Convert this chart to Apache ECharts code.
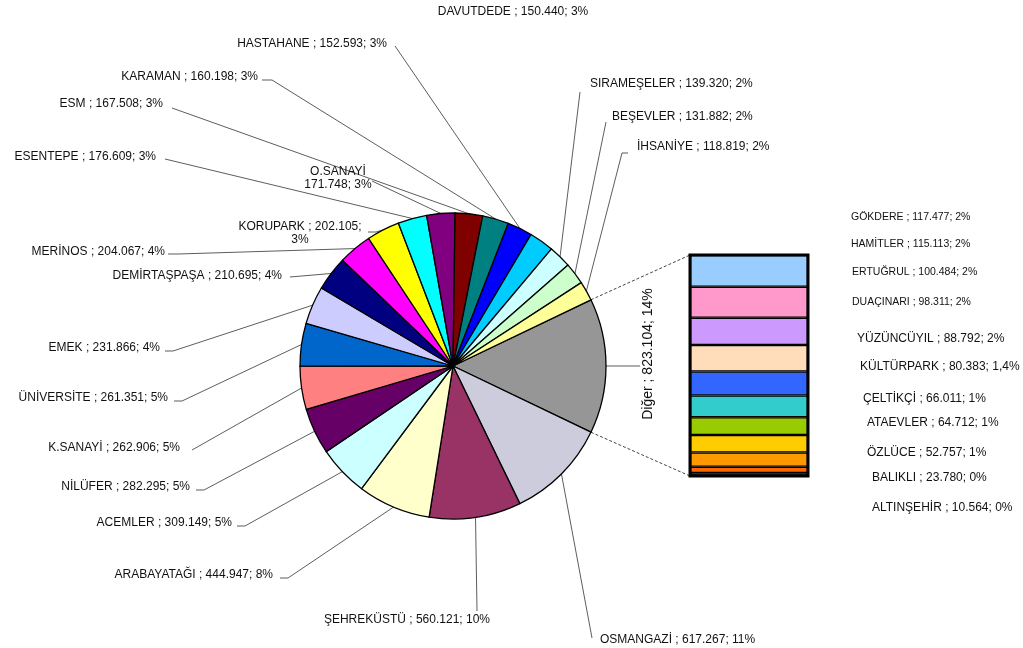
<!DOCTYPE html>
<html><head><meta charset="utf-8">
<script src="https://cdn.jsdelivr.net/npm/echarts@6/dist/echarts.min.js"></script>
<style>html,body{margin:0;padding:0;background:#fff}#c{width:1023px;height:648px}</style>
</head><body><div id="c"></div>
<script>
// ---- data ----
const pieNames = ['Diğer','OSMANGAZİ','ŞEHREKÜSTÜ','ARABAYATAĞI','ACEMLER','NİLÜFER','K.SANAYİ','ÜNİVERSİTE','EMEK','DEMİRTAŞPAŞA','MERİNOS','KORUPARK','ESENTEPE','O.SANAYİ','ESM','KARAMAN','HASTAHANE','DAVUTDEDE','SIRAMEŞELER','BEŞEVLER','İHSANİYE'];
const pieValues = [823104,617267,560121,444947,309149,282295,262906,261351,231866,210695,204067,202105,176609,171748,167508,160198,152593,150440,139320,131882,118819];
const piePercents = ['14%','11%','10%','8%','5%','5%','5%','5%','4%','4%','4%','3%','3%','3%','3%','3%','3%','3%','2%','2%','2%'];
const barNames = ['GÖKDERE','HAMİTLER','ERTUĞRUL','DUAÇINARI','YÜZÜNCÜYIL','KÜLTÜRPARK','ÇELTİKÇİ','ATAEVLER','ÖZLÜCE','BALIKLI','ALTINŞEHİR'];
const barValues = [117477,115113,100484,98311,88792,80383,66011,64712,52757,23780,10564];
const barPercents = ['2%','2%','2%','2%','2%','1,4%','1%','1%','1%','0%','0%'];

// ---- styles / layout ----
const pieColors = ['#969696','#CCCCDD','#993366','#FFFFCC','#CCFFFF','#660066','#FF8080','#0066CC','#CCCCFF','#000080','#FF00FF','#FFFF00','#00FFFF','#800080','#800000','#008080','#0000FF','#00CCFF','#CCFFFF','#CCFFCC','#FFFF99'];
const barColors = ['#99CCFF','#FF99CC','#CC99FF','#FFDDBB','#3366FF','#33CCCC','#99CC00','#FFCC00','#FF9900','#FF6600','#666699'];
const CX = 453, CY = 366, R = 153;
const GRID = {left: 690, top: 255, width: 118, height: 221};
// label anchor x, y, align, leader end x, y, line-break mode, elbow
const pieLabelPos = [
  [648,354,'center',640,366,null,0],
  [600,640,'left',592,638,null,0],
  [490,620,'right',477,611,null,0],
  [273,575,'right',280,578,null,8],
  [232,523,'right',237,526,null,8],
  [190,487,'right',196,490,null,8],
  [180,448,'right',192,450,null,0],
  [168,398,'right',174,401,null,8],
  [160,348,'right',165,351,null,8],
  [282,276,'right',290,277,null,0],
  [165,252,'right',168,254,null,10],
  [300,233,'center',368,232,'value',8],
  [156,157,'right',165,159,null,0],
  [338,178,'center',372,181,'name',0],
  [163,104,'right',172,108,null,0],
  [258,77,'right',262,80,null,10],
  [387,44,'right',395,46,null,0],
  [513,12,'center',null,null,null,0],
  [590,84,'left',580,92,null,0],
  [612,117,'left',606,122,null,0],
  [637,147,'left',628,153,null,6]
];
// bar label x, y, font size
const barLabelPos = [[851,217,10.5],[851,244,10.5],[852,272,10.5],[852,302,10.5],[857,339,12],[860,367,12],[863,399,12],[867,423,12],[867,453,12],[872,478,12],[872,508,12]];
const FONT = 'Liberation Sans, Arial, sans-serif';

function fmt(v){ return String(v).replace(/\B(?=(\d{3})+(?!\d))/g,'.'); }

const pieTotal = pieValues.reduce((a,b)=>a+b,0);
const startAngle = 180 * pieValues[0] / pieTotal;
function edgePoint(i){
  let cum = 0; for (let k=0;k<i;k++) cum += pieValues[k];
  const a = (startAngle - 360*(cum + pieValues[i]/2)/pieTotal) * Math.PI/180;
  return [CX + R*Math.cos(a), CY - R*Math.sin(a)];
}

const pieData = pieNames.map((n,i)=>{
  const d = {name:n, value:pieValues[i], itemStyle:{color:pieColors[i]}};
  if (i===0) d.label = {rotate: 90, fontSize: 14};
  if (pieLabelPos[i][3] == null) d.labelLine = {show:false};
  return d;
});

const barTotal = barValues.reduce((a,b)=>a+b,0);
const barSeries = [];
for (let i = barNames.length-1; i>=0; i--) {
  barSeries.push({
    type:'bar', name: barNames[i], stack:'o', data:[barValues[i]], barWidth:'100%',
    itemStyle:{color:barColors[i], borderColor:'#000', borderWidth:1.3}, silent:true
  });
}

const chart = echarts.init(document.getElementById('c'), null, {renderer:'canvas'});
const graphics = [];
barNames.forEach((n,i)=>{
  graphics.push({type:'text', x:barLabelPos[i][0], y:barLabelPos[i][1],
    style:{text: n + ' ; ' + fmt(barValues[i]) + '; ' + barPercents[i], font: barLabelPos[i][2] + 'px ' + FONT, fill:'#111', textVerticalAlign:'middle', textAlign:'left'}});
});
const a0 = startAngle*Math.PI/180;
graphics.push({type:'line', shape:{x1:CX+R*Math.cos(a0), y1:CY-R*Math.sin(a0), x2:GRID.left, y2:GRID.top}, style:{stroke:'#444', lineWidth:1, lineDash:[3,2]}});
graphics.push({type:'line', shape:{x1:CX+R*Math.cos(a0), y1:CY+R*Math.sin(a0), x2:GRID.left, y2:GRID.top+GRID.height}, style:{stroke:'#444', lineWidth:1, lineDash:[3,2]}});
graphics.push({type:'rect', shape:{x:GRID.left, y:GRID.top, width:GRID.width, height:GRID.height}, style:{fill:'none', stroke:'#000', lineWidth:3}, z:100});

chart.setOption({
  animation:false,
  backgroundColor:'#fff',
  grid: Object.assign({containLabel:false}, GRID),
  xAxis:{type:'category', data:['o'], show:false},
  yAxis:{type:'value', min:0, max:barTotal, show:false},
  series:[{
    type:'pie', center:[CX,CY], radius:R, startAngle:startAngle, clockwise:true,
    avoidLabelOverlap:false, silent:true,
    data: pieData,
    itemStyle:{borderColor:'#000', borderWidth:1.3},
    label:{show:true, position:'outside', color:'#111', fontFamily:FONT, fontSize:12, lineHeight:13,
      formatter:(p)=>{
        const i = p.dataIndex, mode = pieLabelPos[i][5];
        if (mode==='name') return pieNames[i] + '\n' + fmt(pieValues[i]) + '; ' + piePercents[i];
        if (mode==='value') return pieNames[i] + ' ; ' + fmt(pieValues[i]) + ';\n' + piePercents[i];
        return pieNames[i] + ' ; ' + fmt(pieValues[i]) + '; ' + piePercents[i];
      }},
    labelLine:{show:true, lineStyle:{color:'#333', width:0.8}},
    labelLayout:(p)=>{
      const L = pieLabelPos[p.dataIndex];
      const o = {x:L[0], y:L[1], align:L[2], verticalAlign:'middle'};
      if (L[3] != null) {
        const dir = L[2]==='left' ? -1 : 1;
        o.labelLinePoints = [edgePoint(p.dataIndex), [L[3] + dir*L[6], L[4]], [L[3],L[4]]];
      }
      return o;
    }
  }].concat(barSeries),
  graphic: graphics
});
</script></body></html>
